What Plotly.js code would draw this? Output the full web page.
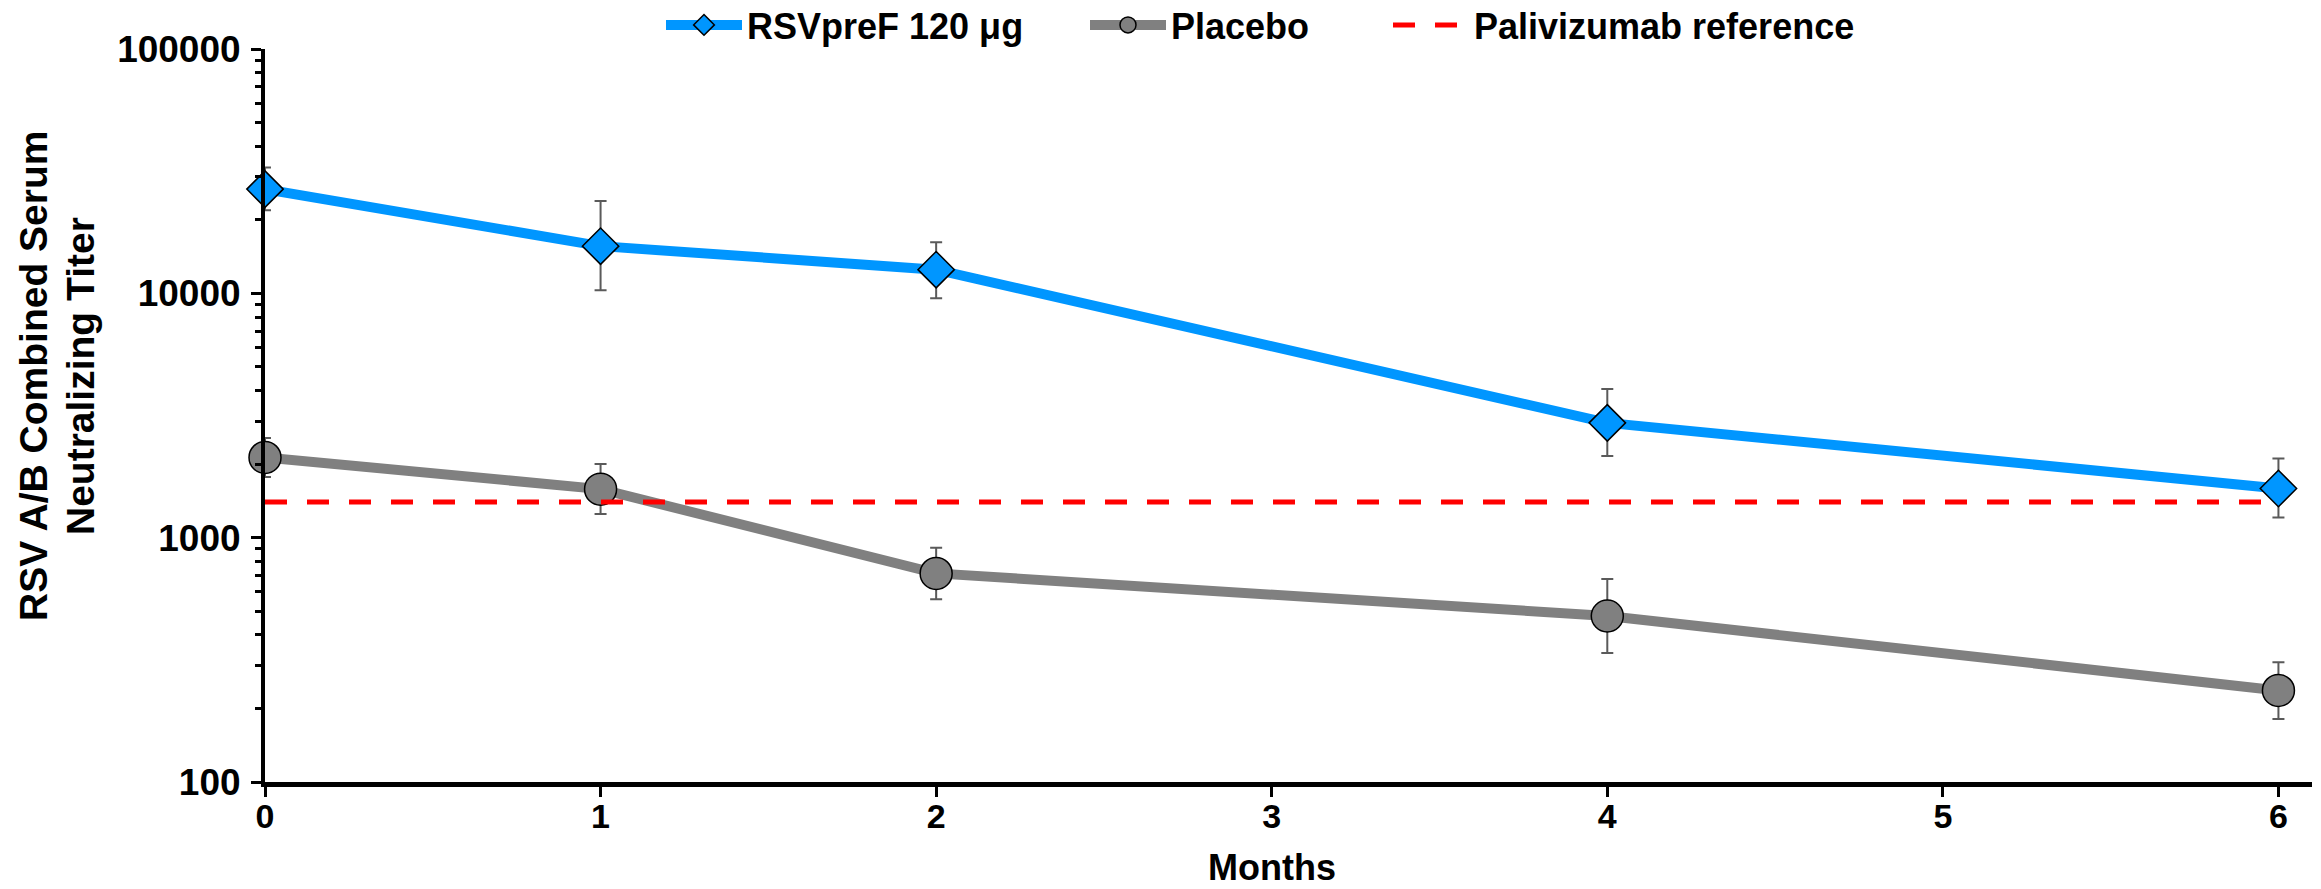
<!DOCTYPE html>
<html>
<head>
<meta charset="utf-8">
<script src="https://cdn.plot.ly/plotly-3.0.1.min.js"></script>
<style>
  html, body { margin: 0; padding: 0; background: #fff; }
  #chart { width: 2321px; height: 889px; }
</style>
</head>
<body>
<div id="chart"></div>
<script>
// ---- Data ----
const months = [0, 1, 2, 4, 6];

const rsvName = 'RSVpreF 120 μg';
const rsvValues = [26700, 15600, 12500, 2950, 1590];
const rsvUpper  = [32700, 23900, 16200, 4060, 2110];
const rsvLower  = [21900, 10300, 9550, 2160, 1210];

const placeboName = 'Placebo';
const placeboValues = [2130, 1580, 714, 478, 237];
const placeboUpper  = [2560, 2000, 910, 678, 309];
const placeboLower  = [1770, 1250, 560, 337, 181];

const refName = 'Palivizumab reference';
const refMonths = [0, 6];
const refValues = [1400, 1400];

const xTickVals = [0, 1, 2, 3, 4, 5, 6];
const xTitle = 'Months';
const yTitleLine1 = 'RSV A/B Combined Serum';
const yTitleLine2 = 'Neutralizing Titer';

// ---- Helpers ----
const diff = (a, b) => a.map((v, i) => v - b[i]);
const FONT = 'Liberation Sans, Arial, sans-serif';
const PL = 265, PW = 2047, PT = 49, PH = 733;   // plot area geometry (px)
const px2paperX = p => (p - PL) / PW;
const px2paperY = p => (PT + PH - p) / PH;

const errStyle = { color: 'rgb(90,90,90)', thickness: 2, width: 6 };
const legFont = { family: FONT, size: 36, weight: 'bold', color: '#000' };
const legendBase = (xpx) => ({
  orientation: 'h', x: px2paperX(xpx), xanchor: 'left',
  y: px2paperY(25), yanchor: 'middle',
  font: legFont, itemwidth: 76, bgcolor: 'rgba(0,0,0,0)', borderwidth: 0
});

const traces = [
  {
    name: placeboName, x: months, y: placeboValues, legend: 'legend2',
    type: 'scatter', mode: 'lines+markers',
    line: { color: '#808080', width: 10 },
    marker: { symbol: 'circle', size: 32, color: '#808080', line: { color: '#000', width: 1.5 } },
    error_y: Object.assign({ type: 'data', symmetric: false,
      array: diff(placeboUpper, placeboValues), arrayminus: diff(placeboValues, placeboLower) }, errStyle),
    cliponaxis: false
  },
  {
    name: rsvName, x: months, y: rsvValues, legend: 'legend',
    type: 'scatter', mode: 'lines+markers',
    line: { color: '#0096FF', width: 10 },
    marker: { symbol: 'diamond', size: 28, color: '#0096FF', line: { color: '#000', width: 1.5 } },
    error_y: Object.assign({ type: 'data', symmetric: false,
      array: diff(rsvUpper, rsvValues), arrayminus: diff(rsvValues, rsvLower) }, errStyle),
    cliponaxis: false
  },
  {
    name: refName, x: refMonths, y: refValues, legend: 'legend3',
    type: 'scatter', mode: 'lines',
    line: { color: '#FF0000', width: 5, dash: '22px,20px' },
    cliponaxis: false
  }
];

const layout = {
  width: 2321, height: 889,
  margin: { l: PL, r: 2321 - PL - PW, t: PT, b: 889 - PT - PH, autoexpand: false },
  paper_bgcolor: '#fff', plot_bgcolor: '#fff',
  font: { family: FONT, color: '#000', size: 35, weight: 'bold' },
  showlegend: true,
  legend: legendBase(661),
  legend2: legendBase(1085),
  legend3: legendBase(1388),
  xaxis: {
    type: 'linear', range: [0, 6.1], tickmode: 'array', tickvals: xTickVals,
    showgrid: false, zeroline: false,
    showline: true, linecolor: '#000', linewidth: 5,
    ticks: 'outside', ticklen: 10, tickwidth: 3, tickcolor: '#000',
    tickfont: { family: FONT, size: 34, weight: 'bold', color: '#000' },
    ticklabelstandoff: -10
  },
  yaxis: {
    type: 'log', range: [2, 5], dtick: 1, tick0: 0,
    exponentformat: 'none', tickformat: 'd',
    showgrid: false, zeroline: false,
    showline: true, linecolor: '#000', linewidth: 4,
    ticks: 'outside', ticklen: 10, tickwidth: 3, tickcolor: '#000',
    tickfont: { family: FONT, size: 37, weight: 'bold', color: '#000' },
    ticklabelstandoff: 3,
    minor: { ticks: 'outside', ticklen: 6, tickwidth: 3, tickcolor: '#000', dtick: 'D1', showgrid: false }
  },
  annotations: [
    {
      text: xTitle, xref: 'x', x: 3, yref: 'paper', y: px2paperY(867),
      xanchor: 'center', yanchor: 'middle', showarrow: false,
      font: { family: FONT, size: 36, weight: 'bold', color: '#000' }
    },
    {
      text: yTitleLine1, xref: 'paper', yref: 'paper',
      x: px2paperX(33), y: px2paperY(376),
      xanchor: 'center', yanchor: 'middle', textangle: -90, showarrow: false,
      font: { family: FONT, size: 39, weight: 'bold', color: '#000' }
    },
    {
      text: yTitleLine2, xref: 'paper', yref: 'paper',
      x: px2paperX(80), y: px2paperY(376),
      xanchor: 'center', yanchor: 'middle', textangle: -90, showarrow: false,
      font: { family: FONT, size: 39, weight: 'bold', color: '#000' }
    }
  ]
};

Plotly.newPlot('chart', traces, layout, { staticPlot: true, displayModeBar: false });
</script>
</body>
</html>
